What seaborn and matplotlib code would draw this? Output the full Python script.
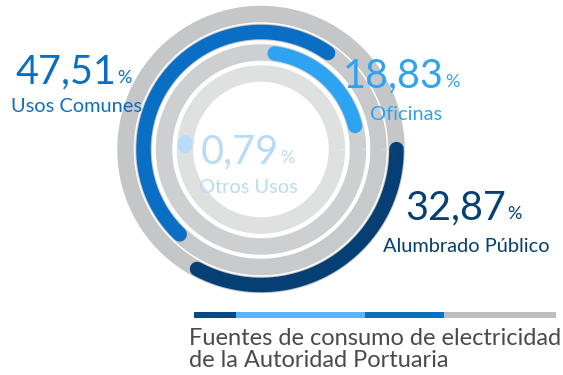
import numpy as np
import pandas as pd
import matplotlib
matplotlib.use("Agg")
import matplotlib.pyplot as plt
import seaborn as sns

# Electricity consumption shares (%)
categories = ["Alumbrado Público", "Usos Comunes", "Oficinas", "Otros Usos"]
shares = [32.87, 47.51, 18.83, 0.79]

title_lines = ["Fuentes de consumo de electricidad", "de la Autoridad Portuaria"]

# Ring styling, outermost ring first
arc_colors = ["#053f73", "#0a6fc4", "#2ea3f2", "#b8dbf7"]
track_colors = ["#c4c6c8", "#c7c9ca", "#cdcfd0", "#dfe1e1"]
ring_radius_px = [135.5, 117.5, 97.0, 76.0]
arc_mid_deg = [-59.0, 140.7, 48.0, 176.0]

# Label placement (pixel coordinates, y from top)
number_split_x = [506, 116, 444, 279]
number_baseline_y = [219, 83, 87, 163]
label_center_x = [466, 77, 406, 248]
label_baseline_y = [252, 112, 120, 193]

# Decorative stripe above the caption
stripe_parts = [42, 129, 79, 112]
stripe_colors = ["#0a4a80", "#5ab4f6", "#0a70c0", "#bebebe"]

W, H, DPI = 563, 375, 100
sns.set_theme(style="white")
plt.rcParams["font.family"] = ["Lato", "DejaVu Sans"]

fig = plt.figure(figsize=(W / DPI, H / DPI), dpi=DPI)
fig.patch.set_facecolor("white")

cx, cy, half = 261, 149.5, 150
ax = fig.add_axes([(cx - half) / W, (H - cy - half) / H, 2 * half / W, 2 * half / H],
                  projection="polar")
ax.set_ylim(0, half)
ax.axis("off")

px2pt = 72 / DPI
track_w = 16.5 * px2pt
arc_w = 14.5 * px2pt

full = np.linspace(0, 2 * np.pi, 721)
for r, tc in zip(ring_radius_px, track_colors):
    ax.plot(full, np.full_like(full, r), color=tc, lw=track_w,
            solid_capstyle="butt", clip_on=False, zorder=1)

for share, r, col, mid in zip(shares, ring_radius_px, arc_colors, arc_mid_deg):
    span = share / 100 * 360
    theta = np.deg2rad(np.linspace(mid - span / 2, mid + span / 2, 400))
    df = pd.DataFrame({"theta": theta, "r": np.full_like(theta, r)})
    sns.lineplot(data=df, x="theta", y="r", ax=ax, color=col, linewidth=arc_w,
                 sort=False, estimator=None, legend=False,
                 solid_capstyle="round", clip_on=False, zorder=3)
ax.set_ylim(0, half)
ax.axis("off")


def fx(x):
    return x / W


def fy(y):
    return 1 - y / H


for share, col, sx, by, lx, ly, name in zip(shares, arc_colors, number_split_x,
                                            number_baseline_y, label_center_x,
                                            label_baseline_y, categories):
    num = f"{share:.2f}".replace(".", ",")
    fig.text(fx(sx), fy(by), num, color=col, fontsize=28.5, ha="right", va="baseline")
    fig.text(fx(sx + 1), fy(by), "%", color=col, fontsize=13, ha="left", va="baseline")
    fig.text(fx(lx), fy(ly), name, color=col, fontsize=14.4, ha="center", va="baseline")

# Stripe
sax = fig.add_axes([194 / W, 1 - 318 / H, 362 / W, 6 / H])
left = 0
for part, c in zip(stripe_parts, stripe_colors):
    sax.barh(0, part, left=left, height=1, color=c, edgecolor="none")
    left += part
sax.set_xlim(0, sum(stripe_parts))
sax.set_ylim(-0.5, 0.5)
sax.axis("off")

fig.text(fx(189), fy(345), title_lines[0], color="#4a4a4a", fontsize=17,
         ha="left", va="baseline")
fig.text(fx(189), fy(367), title_lines[1], color="#4a4a4a", fontsize=17,
         ha="left", va="baseline")

fig.savefig("out.png", dpi=DPI, facecolor="white")
